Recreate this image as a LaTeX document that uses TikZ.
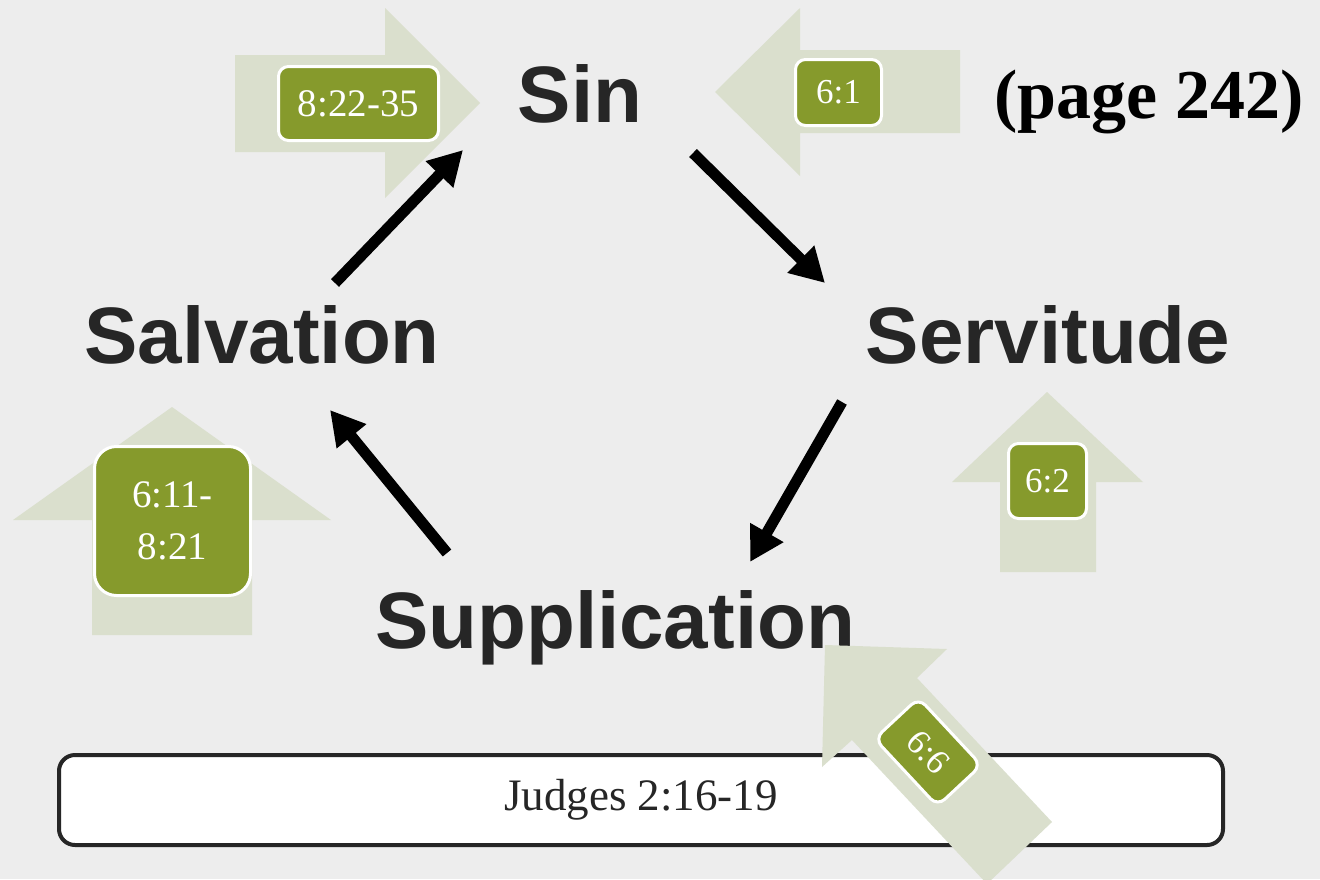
\documentclass[tikz,border=0pt]{standalone}
\usepackage{xcolor}
\usepackage{fontspec}
\setmainfont{Liberation Serif}
\newfontfamily\titlefont{Liberation Sans}
\usetikzlibrary{arrows.meta}
\definecolor{sfondo}{HTML}{EDEDED}
\definecolor{pallido}{HTML}{DADFCD}
\definecolor{oliva}{HTML}{869A2C}
\definecolor{scuro}{HTML}{262626}
\tikzset{
    freccia/.style={fill=pallido},
    versetto/.style={
        fill=oliva, draw=white, line width=3pt, rounded corners=10pt,
        text=white, inner sep=0pt, align=center,
        font=\fontsize{39}{52}\selectfont
    },
    piccolo/.style={font=\fontsize{35}{40}\selectfont},
    fase/.style={text=scuro, anchor=base, inner sep=0pt, font=\titlefont\bfseries\fontsize{80}{90}\selectfont},
    ciclo/.style={draw=black, line width=11pt, -{Triangle[length=34pt,width=36pt]}}
}
\begin{document}
\begin{tikzpicture}[x=1pt, y=-1pt]
        % Sfondo
        \useasboundingbox (0,0) rectangle (1320,879);
        \clip (0,0) rectangle (1320,879);
        \fill[sfondo] (0,0) rectangle (1320,879);
        % Frecce chiare
        \fill[freccia] (235,55) -- (385,55) -- (385,8) -- (480,103) -- (385,198) -- (385,152) -- (235,152) -- cycle;
        \fill[freccia] (960,50) -- (800,50) -- (800,8) -- (715,92) -- (800,176) -- (800,133) -- (960,133) -- cycle;
        \fill[freccia] (92,635) -- (92,520) -- (13,520) -- (172,407) -- (331,520) -- (252,520) -- (252,635) -- cycle;
        \fill[freccia] (1000,572) -- (1000,482) -- (952,482) -- (1047,392) -- (1143,482) -- (1096,482) -- (1096,572) -- cycle;
        % Riquadri dei versetti
        \node[versetto, minimum width=160pt, minimum height=74pt] (v1) at (358.5,103.5) {8:22-35};
        \node[versetto, piccolo, minimum width=86pt, minimum height=66pt] (v2) at (838.5,92.5) {6:1};
        \node[versetto, minimum width=156pt, minimum height=149pt, rounded corners=22pt] (v3) at (172.5,521) {6:11-\\8:21};
        \node[versetto, piccolo, minimum width=78pt, minimum height=75pt] (v4) at (1047.5,481) {6:2};
        % Fasi del ciclo
        \node[fase] (sin) at (580,122) {Sin};
        \node[fase] (servitude) at (1048,363) {Servitude};
        \node[fase] (supplication) at (615,648) {Supplication};
        \node[fase] (salvation) at (262,363) {Salvation};
        \node[text=black, anchor=base, inner sep=0pt, font=\bfseries\fontsize{70}{76}\selectfont] (pagina) at (1149,118) {(page 242)};
        % Frecce nere
        \coordinate (salvation-out) at (335,283);
        \coordinate (sin-in) at (463,150);
        \coordinate (sin-out) at (693,153);
        \coordinate (servitude-in) at (825,283);
        \coordinate (servitude-out) at (842,402);
        \coordinate (supplication-in) at (750,562);
        \coordinate (supplication-out) at (447,553);
        \coordinate (salvation-in) at (330,410);
        \draw[ciclo] (salvation-out) -- (sin-in);
        \draw[ciclo] (sin-out) -- (servitude-in);
        \draw[ciclo] (servitude-out) -- (supplication-in);
        \draw[ciclo] (supplication-out) -- (salvation-in);
        % Riferimento
        \node[draw=scuro, line width=4pt, fill=white, rounded corners=16pt, text=scuro,
              minimum width=1164pt, minimum height=90pt, font=\fontsize{45}{50}\selectfont] (fonte) at (641,800) {Judges 2:16-19};
        % Freccia obliqua sopra il riquadro
        \fill[freccia] (987,884) -- (852,740) -- (822,767) -- (825,645) -- (947,649) -- (917,678) -- (1052,822) -- cycle;
        \node[versetto, piccolo, minimum width=92pt, minimum height=60pt, rotate=-47] (v5) at (928,752) {6:6};
\end{tikzpicture}
\end{document}
